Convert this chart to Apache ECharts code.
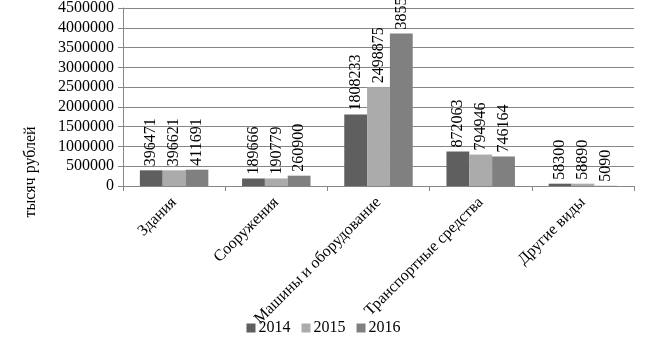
<!DOCTYPE html>
<html>
<head>
<meta charset="utf-8">
<script src="https://cdn.jsdelivr.net/npm/echarts@6/dist/echarts.min.js"></script>
<style>
  html, body { margin: 0; padding: 0; background: #fff; }
  #chart { width: 647px; height: 347px; }
</style>
</head>
<body>
<div id="chart"></div>
<script>
// Основные фонды по видам, тысяч рублей
const categories = ['Здания', 'Сооружения', 'Машины и оборудование', 'Транспортные средства', 'Другие виды'];
const years = ['2014', '2015', '2016'];
const values2014 = [396471, 189666, 1808233, 872063, 58300];
const values2015 = [396621, 190779, 2498875, 794946, 58890];
const values2016 = [411691, 260900, 3855000, 746164, 5090];
const yTicks = { min: 0, max: 4500000, interval: 500000 };
const unitTitle = 'тысяч рублей';

const FONT = 'Liberation Serif';
const colors = ['#5f5f5f', '#ababab', '#808080'];
const seriesValues = [values2014, values2015, values2016];

const chart = echarts.init(document.getElementById('chart'), null, { renderer: 'canvas' });

chart.setOption({
  animation: false,
  textStyle: { fontFamily: FONT, color: '#000' },
  grid: { left: 123, right: 13, top: 7, bottom: 161, containLabel: false },
  legend: {
    data: years,
    bottom: 6,
    left: 'center',
    itemWidth: 9,
    itemHeight: 9,
    itemGap: 11,
    icon: 'rect',
    textStyle: { fontFamily: FONT, fontSize: 16, color: '#000', padding: [0, 0, 0, -2] }
  },
  xAxis: {
    type: 'category',
    data: categories,
    axisLine: { lineStyle: { color: '#868686', width: 1 } },
    axisTick: { show: true, length: 5, lineStyle: { color: '#868686' } },
    axisLabel: { rotate: 45, fontFamily: FONT, fontSize: 16, color: '#000', margin: 14, interval: 0 }
  },
  yAxis: {
    type: 'value',
    min: yTicks.min,
    max: yTicks.max,
    interval: yTicks.interval,
    axisLine: { show: true, lineStyle: { color: '#868686', width: 1 } },
    axisTick: { show: true, length: 5, lineStyle: { color: '#868686' } },
    splitLine: { lineStyle: { color: '#868686', width: 1 } },
    axisLabel: {
      fontFamily: FONT, fontSize: 16, color: '#000', margin: 9,
      formatter: (v) => String(v)
    }
  },
  graphic: [{
    type: 'text',
    x: 31,
    y: 172,
    rotation: Math.PI / 2,
    style: {
      text: unitTitle,
      font: '16px "Liberation Serif"',
      fill: '#000',
      align: 'center',
      verticalAlign: 'middle'
    }
  }],
  series: years.map((y, i) => ({
    name: y,
    type: 'bar',
    data: seriesValues[i],
    barGap: '0%',
    barCategoryGap: '33%',
    itemStyle: { color: colors[i] },
    label: {
      show: true,
      position: 'top',
      rotate: 90,
      align: 'left',
      verticalAlign: 'middle',
      distance: 4,
      fontFamily: FONT,
      fontSize: 16,
      color: '#000'
    }
  }))
});
</script>
</body>
</html>
